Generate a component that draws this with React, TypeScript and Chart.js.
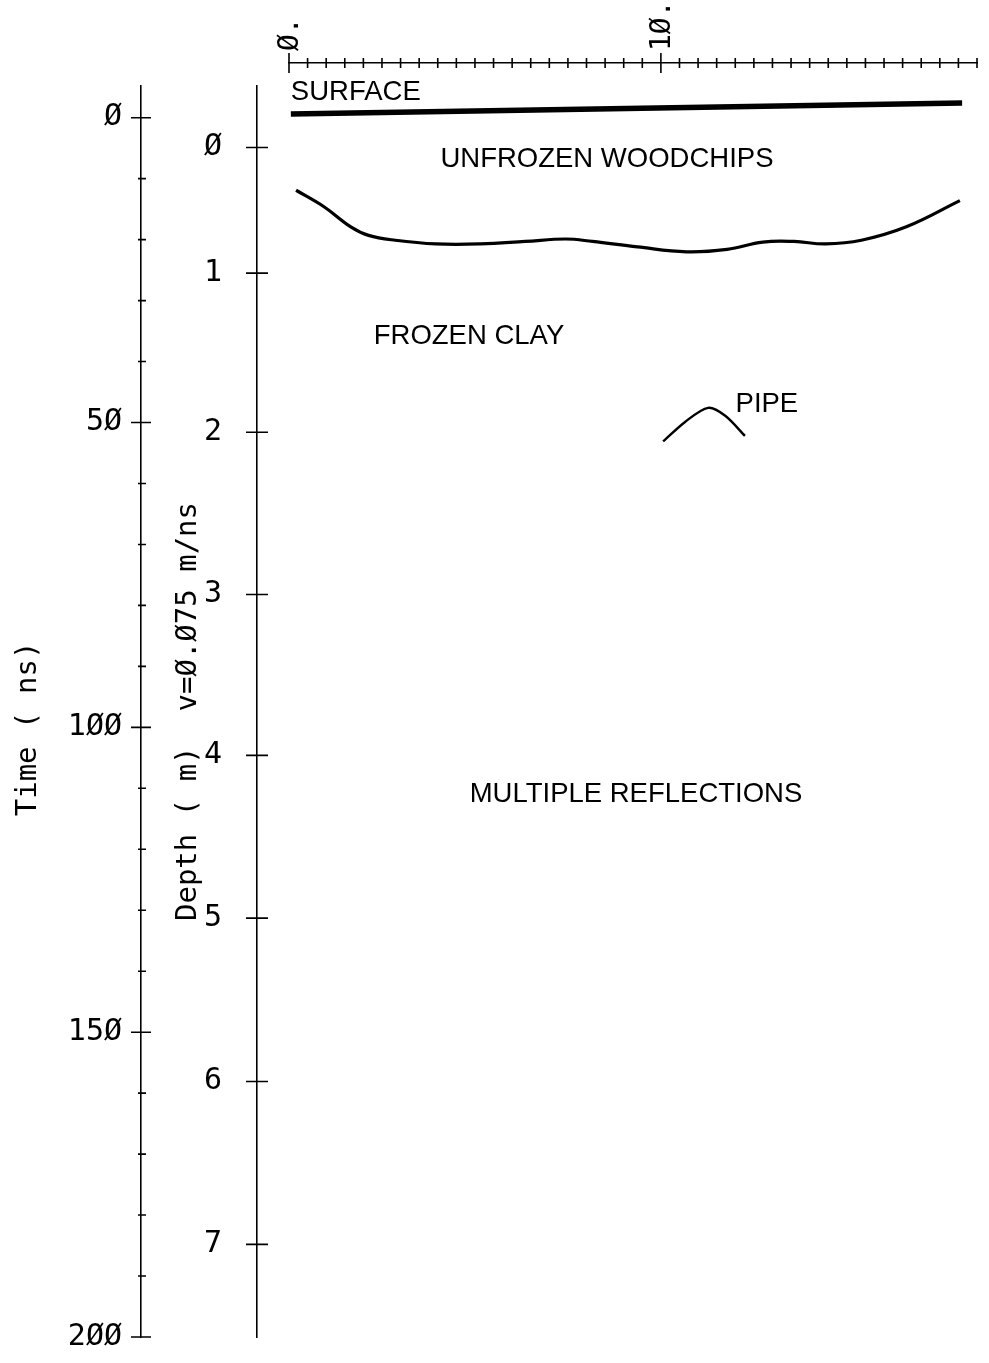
import { useEffect, useRef } from 'react';
import { Chart, registerables } from 'chart.js';

Chart.register(...registerables);

// Profile distance (m) along the top axis, two-way travel time (ns) down the side.
const distanceMax = 18.5;
const distanceStep = 0.5;
const distanceLabelValues = [0, 10];
const distanceLabelTexts = ['Ø.', '1Ø.'];

const timeMin = -5.2;
const timeMax = 200;
const timeStep = 10;
const timeLabelValues = [0, 50, 100, 150, 200];
const timeLabelTexts = ['Ø', '5Ø', '1ØØ', '15Ø', '2ØØ'];

// Depth scale (v = 0.075 m/ns), tick placed at its equivalent time
const depthLabels = ['Ø', '1', '2', '3', '4', '5', '6', '7'];
const depthTickTimes = [4.9, 25.5, 51.6, 78.2, 104.6, 131.3, 158.1, 184.8];

// Interpreted reflectors
const surfaceDistance = [0.05, 18.1];
const surfaceTime = [-0.6, -2.4];

const interfaceDistance = [0.19, 0.94, 1.66, 2.14, 2.86, 3.95, 5.15, 6.35, 7.44, 8.16, 9.37, 10.69, 11.78, 12.74, 13.58, 14.43, 15.39, 16.6, 18.04];
const interfaceTime = [11.9, 14.6, 17.9, 19.3, 20.1, 20.7, 20.7, 20.3, 19.9, 20.3, 21.2, 22.0, 21.6, 20.4, 20.3, 20.7, 20.1, 17.9, 13.6];

const pipeDistance = [10.06, 10.65, 11.27, 11.73, 12.26];
const pipeTime = [53.1, 49.9, 47.6, 48.9, 52.2];

// Layer annotations and where they sit (distance, time)
const annotationTexts = ['SURFACE', 'UNFROZEN WOODCHIPS', 'FROZEN CLAY', 'PIPE', 'MULTIPLE REFLECTIONS'];
const annotationAnchors = [
  { x: 0.05, t: -4.2, align: 'left' },
  { x: 8.55, t: 6.9, align: 'center' },
  { x: 4.84, t: 35.8, align: 'center' },
  { x: 12.85, t: 47.0, align: 'center' },
  { x: 9.33, t: 111.0, align: 'center' },
];

const MONO = "'DejaVu Sans Mono', monospace";
const sideTickFont = { family: MONO, size: 30 };
const topTickFont = { family: MONO, size: 28 };
const titleFont = { family: MONO, size: 29 };
const INK = '#000';
const CLEAR = 'rgba(0,0,0,0)';

const toPoints = (xs: number[], ys: number[]) => xs.map((x, i) => ({ x, y: ys[i] }));

const axisBorder = { display: true, color: INK, width: 1.6 };
// invisible tick marks only reserve room between the axis line and its labels
const spacerGrid = (len: number) => ({ display: true, drawOnChartArea: false, drawTicks: true, tickLength: len, color: CLEAR });

// Plotter-style ticks that cross the axis line
const crossTicks = {
  id: 'crossTicks',
  afterDraw(chart: any) {
    const { ctx } = chart;
    const sx = chart.scales.x;
    const st = chart.scales.y;
    const sd = chart.scales.yDepth;
    ctx.save();
    ctx.strokeStyle = INK;
    ctx.lineWidth = 1.6;
    ctx.beginPath();
    const ay = sx.bottom;
    sx.ticks.forEach((t: any) => {
      const p = sx.getPixelForValue(t.value);
      const big = distanceLabelValues.includes(t.value);
      ctx.moveTo(p, ay - (big ? 10 : 5));
      ctx.lineTo(p, ay + (big ? 10 : 5));
    });
    const tx = st.right;
    st.ticks.forEach((t: any) => {
      const p = st.getPixelForValue(t.value);
      const big = timeLabelValues.includes(t.value);
      ctx.moveTo(tx - (big ? 10 : 3), p);
      ctx.lineTo(tx + (big ? 10 : 5), p);
    });
    const dx = sd.right;
    sd.ticks.forEach((t: any) => {
      const p = sd.getPixelForValue(t.value);
      ctx.moveTo(dx - 11, p);
      ctx.lineTo(dx + 11, p);
    });
    ctx.stroke();
    ctx.restore();
  },
};

const layerLabels = {
  id: 'layerLabels',
  afterDatasetsDraw(chart: any) {
    const { ctx } = chart;
    const sx = chart.scales.x;
    const st = chart.scales.y;
    ctx.save();
    ctx.fillStyle = INK;
    ctx.font = "27.5px 'Liberation Sans', Arial, sans-serif";
    ctx.textBaseline = 'middle';
    annotationTexts.forEach((txt, i) => {
      const a = annotationAnchors[i];
      ctx.textAlign = a.align;
      ctx.fillText(txt, sx.getPixelForValue(a.x), st.getPixelForValue(a.t));
    });
    ctx.restore();
  },
};

export default function App() {
  const canvasRef = useRef<HTMLCanvasElement | null>(null);

  useEffect(() => {
    const canvas = canvasRef.current;
    if (!canvas) return;
    const line = (data: any[], width: number, tension: number) => ({
      data,
      showLine: true,
      borderColor: INK,
      borderWidth: width,
      pointRadius: 0,
      tension,
      fill: false,
      xAxisID: 'x',
      yAxisID: 'y',
    });
    const chart = new Chart(canvas, {
      type: 'scatter',
      data: {
        datasets: [
          { ...line(toPoints(surfaceDistance, surfaceTime), 5.5, 0), borderCapStyle: 'butt' },
          line(toPoints(interfaceDistance, interfaceTime), 3.2, 0.4),
          line(toPoints(pipeDistance, pipeTime), 2.4, 0.3),
        ],
      },
      options: {
        responsive: false,
        animation: false,
        devicePixelRatio: 1,
        layout: { padding: { left: 0, top: 0, right: 12, bottom: 26 } },
        plugins: { legend: { display: false }, tooltip: { enabled: false } },
        scales: {
          x: {
            type: 'linear',
            position: 'top',
            weight: 1,
            min: 0,
            max: distanceMax,
            afterBuildTicks: (s: any) => {
              const ticks = [];
              for (let v = 0; v <= distanceMax + 1e-9; v += distanceStep) ticks.push({ value: Math.round(v * 10) / 10 });
              s.ticks = ticks;
            },
            afterFit: (s: any) => { s.height = 63; },
            ticks: {
              autoSkip: false,
              minRotation: 90,
              maxRotation: 90,
              padding: 12,
              labelOffset: 35,
              font: topTickFont,
              color: INK,
              callback: (v: any) => {
                const i = distanceLabelValues.indexOf(Number(v));
                return i >= 0 ? distanceLabelTexts[i] : '';
              },
            },
            grid: { display: true, drawOnChartArea: false, drawTicks: false },
            border: axisBorder,
          },
          xGap: {
            type: 'linear',
            position: 'top',
            weight: 0,
            afterFit: (s: any) => { s.height = 23; },
            ticks: { display: false },
            grid: { display: false },
            border: { display: false },
          },
          y: {
            type: 'linear',
            position: 'left',
            weight: 2,
            reverse: true,
            min: timeMin,
            max: timeMax,
            afterBuildTicks: (s: any) => {
              const ticks = [];
              for (let v = 0; v <= timeMax; v += timeStep) ticks.push({ value: v });
              s.ticks = ticks;
            },
            afterFit: (s: any) => { s.width = 141; },
            ticks: {
              autoSkip: false,
              padding: 2,
              font: sideTickFont,
              color: INK,
              callback: (v: any) => {
                const i = timeLabelValues.indexOf(Number(v));
                return i >= 0 ? timeLabelTexts[i] : '';
              },
            },
            grid: spacerGrid(17),
            border: axisBorder,
            title: { display: true, text: 'Time ( ns)  ', font: titleFont, color: INK, padding: { top: 11, bottom: 0 } },
          },
          yDepth: {
            type: 'linear',
            position: 'left',
            weight: 1,
            reverse: true,
            min: timeMin,
            max: timeMax,
            afterBuildTicks: (s: any) => {
              s.ticks = depthTickTimes.map((v) => ({ value: v }));
            },
            afterFit: (s: any) => { s.width = 116; },
            ticks: {
              autoSkip: false,
              padding: 2,
              font: sideTickFont,
              color: INK,
              callback: (_v: any, i: number) => depthLabels[i],
            },
            grid: spacerGrid(33),
            border: axisBorder,
            title: { display: true, text: 'Depth ( m)  v=Ø.Ø75 m/ns', font: titleFont, color: INK, padding: { top: 30, bottom: 0 } },
          },
          yGap: {
            type: 'linear',
            position: 'left',
            weight: 0,
            afterFit: (s: any) => { s.width = 32; },
            ticks: { display: false },
            grid: { display: false },
            border: { display: false },
          },
        },
      } as any,
      plugins: [crossTicks, layerLabels],
    });
    return () => chart.destroy();
  }, []);

  return (
    <div style={{ position: 'absolute', left: 0, top: 0, width: 989, height: 1363, background: '#fff' }}>
      <canvas ref={canvasRef} width={989} height={1363} />
    </div>
  );
}
